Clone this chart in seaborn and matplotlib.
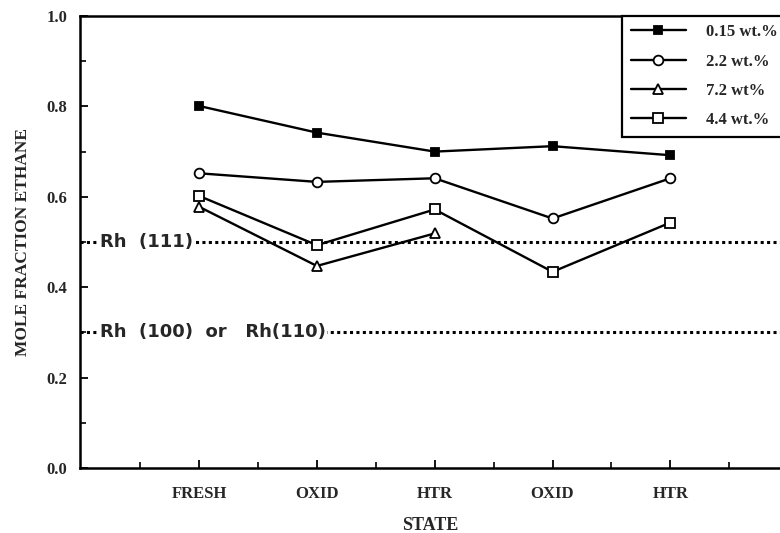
import numpy as np
import pandas as pd
import matplotlib
matplotlib.use("Agg")
import matplotlib.pyplot as plt
import seaborn as sns

# Catalyst states along the treatment sequence
states = ["FRESH", "OXID", "HTR", "OXID", "HTR"]
state_pos = [1, 2, 3, 4, 5]

# Mole fraction of ethane for each Rh loading
labels = ["0.15 wt.%", "2.2 wt.%", "7.2 wt%", "4.4 wt.%"]
rh_015 = [0.801, 0.742, 0.700, 0.712, 0.692]
rh_22 = [0.652, 0.633, 0.641, 0.552, 0.641]
rh_72 = [0.578, 0.447, 0.519]
rh_44 = [0.602, 0.493, 0.572, 0.434, 0.543]

# Reference single-crystal values
ref_levels = [0.5, 0.3]
ref_labels = ["Rh  (111)", "Rh  (100)  or   Rh(110)"]

series = [rh_015, rh_22, rh_72, rh_44]
markers = ["s", "o", "^", "s"]
faces = ["black", "white", "white", "white"]
msizes = [6, 7, 6.5, 7.5]

frames = []
for lab, vals in zip(labels, series):
    frames.append(pd.DataFrame({"state": state_pos[:len(vals)],
                                "fraction": vals,
                                "loading": lab}))
df = pd.concat(frames, ignore_index=True)

sns.set_style("ticks")
serif = ["Liberation Serif", "DejaVu Serif"]
sans = ["DejaVu Sans"]

fig = plt.figure(figsize=(7.8, 5.33), dpi=100)
ax = fig.add_axes([80 / 780, 1 - 468 / 533, 1 - 80 / 780, (468 - 16) / 533])

for lab, mk, fc, ms in zip(labels, markers, faces, msizes):
    sub = df[df["loading"] == lab]
    sns.lineplot(data=sub, x="state", y="fraction", ax=ax, color="black",
                 linewidth=1.7, marker=mk, markersize=ms,
                 markerfacecolor=fc, markeredgecolor="black",
                 markeredgewidth=1.3, label=lab, sort=False)

# Reference lines with their labels sitting on the dotted line
for lvl, txt in zip(ref_levels, ref_labels):
    ax.axhline(lvl, color="black", linewidth=2.2,
               linestyle=(0, (1.0, 1.1)), zorder=1)
    ax.text(0.16, lvl, txt, fontsize=13, fontweight="bold", family=sans,
            va="center", ha="left", zorder=2,
            bbox=dict(facecolor="white", edgecolor="none", pad=1.0))

ax.set_xlim(-0.01, 5.93)
ax.set_ylim(0.0, 1.0)

ax.set_xticks(state_pos)
ax.set_xticklabels(states)
ax.set_xticks(np.arange(0.5, 5.6, 1.0), minor=True)
ax.set_yticks(np.arange(0.0, 1.01, 0.2))
ax.set_yticklabels([f"{v:.1f}" for v in np.arange(0.0, 1.01, 0.2)])
ax.set_yticks(np.arange(0.1, 1.0, 0.2), minor=True)

ax.tick_params(axis="both", which="major", direction="in", length=6,
               width=1.3, color="black")
ax.tick_params(axis="both", which="minor", direction="in", length=4,
               width=1.2, color="black")
ax.tick_params(axis="x", which="major", pad=13)
ax.tick_params(axis="y", which="major", pad=9)

for t in ax.get_xticklabels():
    t.set_fontfamily(serif)
    t.set_fontweight("bold")
    t.set_fontsize(12)
for t in ax.get_yticklabels():
    t.set_fontfamily(serif)
    t.set_fontweight("bold")
    t.set_fontsize(12)

ax.set_xlabel("STATE", fontsize=13, fontweight="bold", family=serif,
              labelpad=11)
ax.set_ylabel("MOLE FRACTION ETHANE", fontsize=12.5, fontweight="bold",
              family=serif, labelpad=11)

for side in ["left", "bottom", "top"]:
    ax.spines[side].set_linewidth(1.8)
    ax.spines[side].set_color("black")
ax.spines["right"].set_visible(False)

leg = ax.legend(loc="upper right", bbox_to_anchor=(1.008, 1.0),
                borderaxespad=0.0,
                prop={"family": serif, "weight": "bold", "size": 12},
                handlelength=3.3, handletextpad=1.2, labelspacing=0.8,
                borderpad=0.5, fancybox=False, framealpha=1.0,
                edgecolor="black", numpoints=1)
leg.get_frame().set_linewidth(1.6)

fig.savefig("out.png", dpi=100)
